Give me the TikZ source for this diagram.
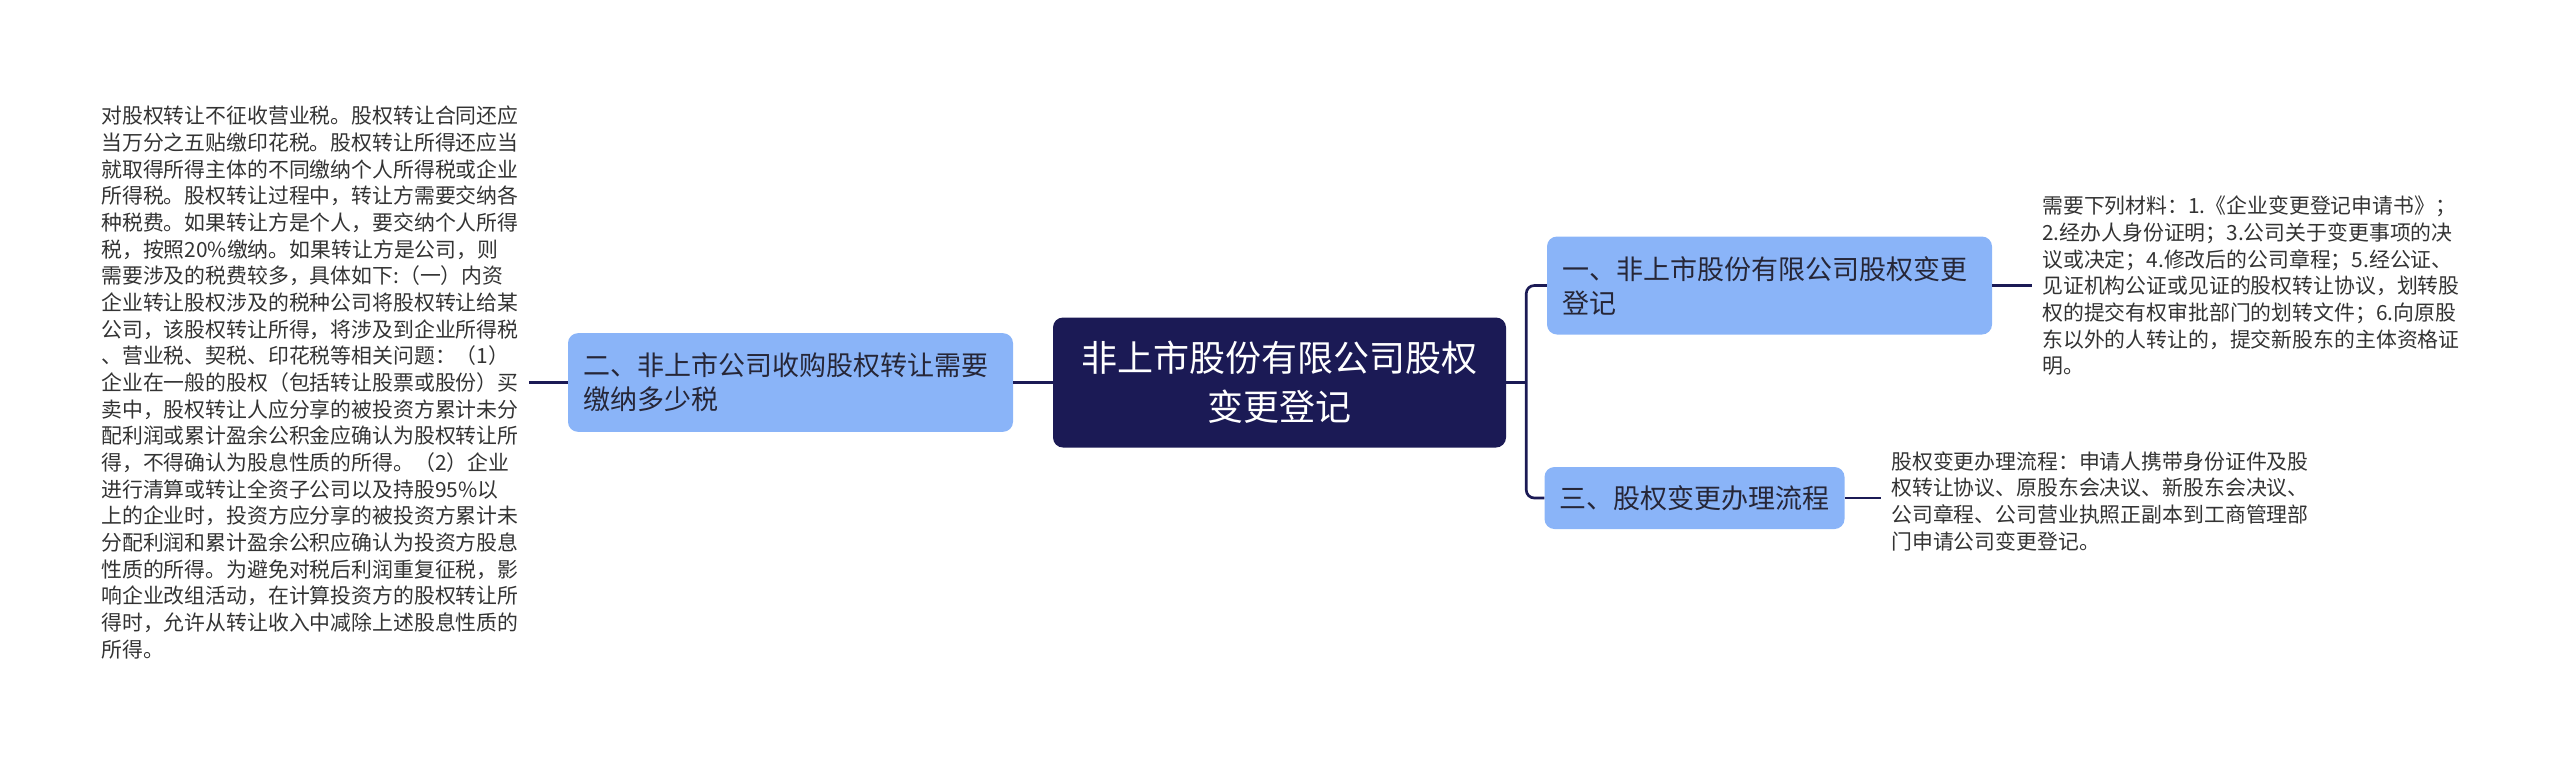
\documentclass[tikz,border=0pt]{standalone}
\usepackage{fontspec}
\setmainfont{Noto Sans CJK SC}
\definecolor{navy}{HTML}{1B1A55}
\definecolor{lblue}{HTML}{8AB4F8}
\definecolor{ntext}{HTML}{262637}
\definecolor{btext}{HTML}{333333}
\begin{document}
\begin{tikzpicture}[x=0.75pt,y=-0.75pt,
  conn/.style={draw=navy,line width=2pt},
  root/.style={fill=navy,rounded corners=7.5pt,text=white,align=center,
    minimum width=339.75pt,minimum height=97.5pt,inner sep=0pt,
    font=\fontsize{27pt}{36.75pt}\selectfont},
  topic/.style={fill=lblue,rounded corners=7.5pt,text=ntext,align=left,
    inner xsep=11.25pt,inner ysep=0pt,
    font=\fontsize{20.25pt}{25.5pt}\selectfont},
  leaf/.style={text=btext,align=left,inner xsep=7.5pt,inner ysep=0pt,
    font=\fontsize{15.65pt}{20pt}\selectfont}]
\useasboundingbox (0,0) rectangle (2560,765);
\node[root] (c) at (1279.5,382.5) {非上市股份有限公司股权\\变更登记};
\node[topic,text width=311.25pt,minimum height=74pt] (l) at (790.5,382.5)
  {二、非上市公司收购股权转让需要\\缴纳多少税};
\node[topic,text width=311.25pt,minimum height=73.5pt] (t) at (1769.5,285.5)
  {一、非上市股份有限公司股权变更\\登记};
\node[topic,minimum width=221.25pt,minimum height=46.5pt] (b) at (1694.5,498)
  {三、股权变更办理流程};
\node[leaf,anchor=west] (lt) at (91,382.5) {对股权转让不征收营业税。股权转让合同还应\\
当万分之五贴缴印花税。股权转让所得还应当\\
就取得所得主体的不同缴纳个人所得税或企业\\
所得税。股权转让过程中，转让方需要交纳各\\
种税费。如果转让方是个人，要交纳个人所得\\
税，按照20\%缴纳。如果转让方是公司，则\\
需要涉及的税费较多，具体如下:（一）内资\\
企业转让股权涉及的税种公司将股权转让给某\\
公司，该股权转让所得，将涉及到企业所得税\\
、营业税、契税、印花税等相关问题：（1）\\
企业在一般的股权（包括转让股票或股份）买\\
卖中，股权转让人应分享的被投资方累计未分\\
配利润或累计盈余公积金应确认为股权转让所\\
得，不得确认为股息性质的所得。（2）企业\\
进行清算或转让全资子公司以及持股95\%以\\
上的企业时，投资方应分享的被投资方累计未\\
分配利润和累计盈余公积应确认为投资方股息\\
性质的所得。为避免对税后利润重复征税，影\\
响企业改组活动，在计算投资方的股权转让所\\
得时，允许从转让收入中减除上述股息性质的\\
所得。};
\node[leaf,anchor=west] (tt) at (2032,286) {需要下列材料：1.《企业变更登记申请书》；\\
2.经办人身份证明；3.公司关于变更事项的决\\
议或决定；4.修改后的公司章程；5.经公证、\\
见证机构公证或见证的股权转让协议，划转股\\
权的提交有权审批部门的划转文件；6.向原股\\
东以外的人转让的，提交新股东的主体资格证\\
明。};
\node[leaf,anchor=west] (bt) at (1881,501) {股权变更办理流程：申请人携带身份证件及股\\
权转让协议、原股东会决议、新股东会决议、\\
公司章程、公司营业执照正副本到工商管理部\\
门申请公司变更登记。};
\draw[conn] (c.west) -- (c.west -| l.east);
\draw[conn] (l.west) -- (l.west -| lt.east);
\draw[conn] (c.east) -- ++(20,0) coordinate (br);
\draw[conn,rounded corners=6pt] (t.west) -| (br) |- (b.west);
\draw[conn] (t.east) -- (t.east -| tt.west);
\draw[conn] (b.east) -- (b.east -| bt.west);
\end{tikzpicture}
\end{document}
